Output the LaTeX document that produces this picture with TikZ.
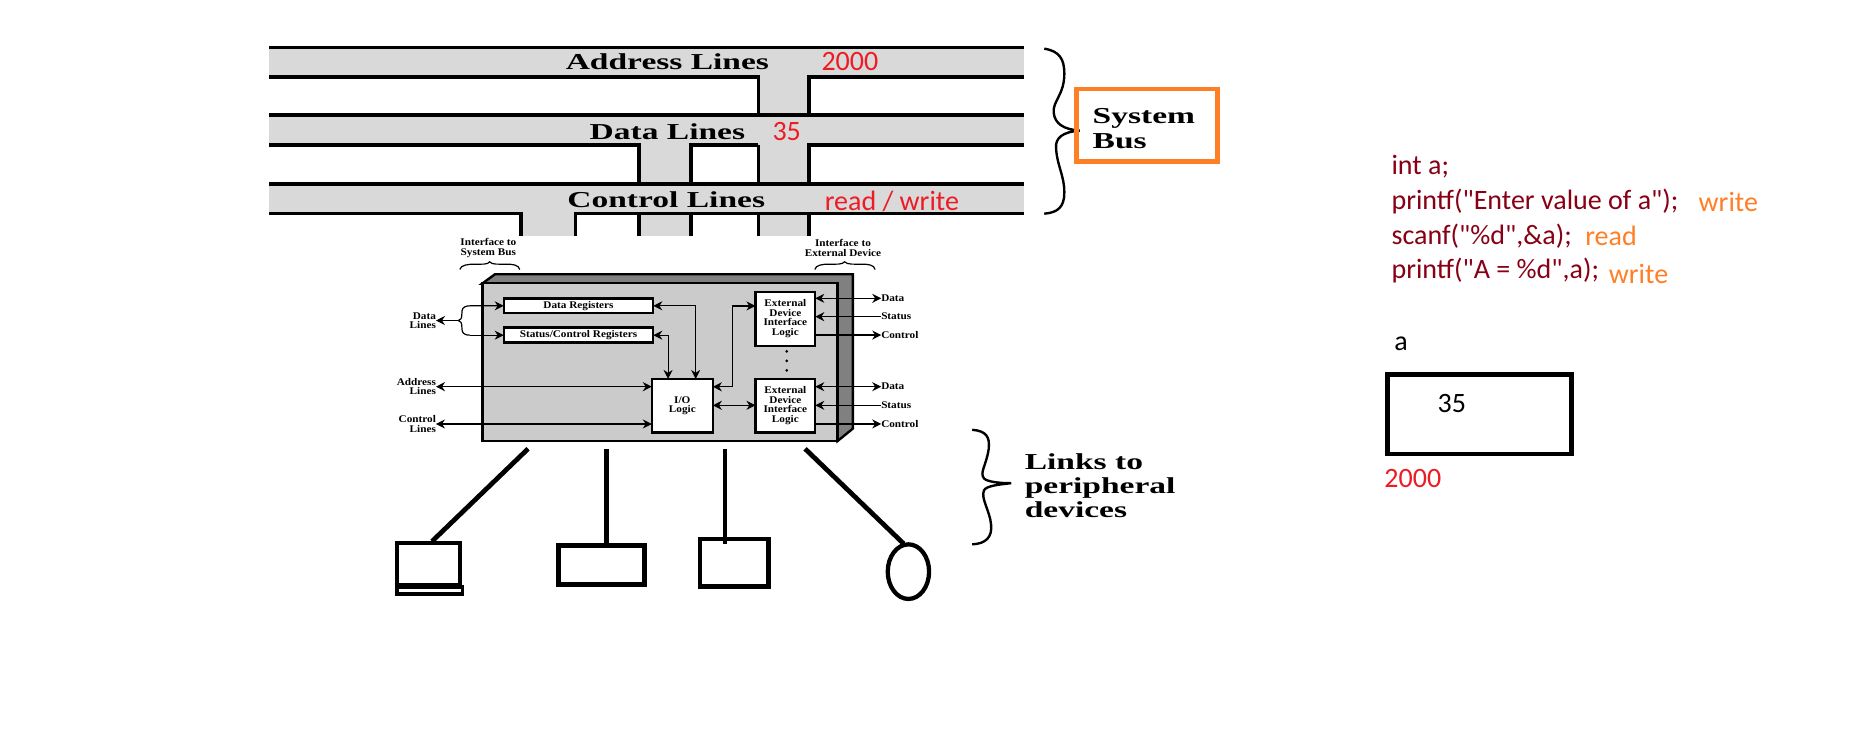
\documentclass[tikz,border=0pt]{standalone}
\usepackage{fontspec}
\setmainfont{Liberation Serif}
\newfontfamily\calibrifont{Carlito}
\newfontfamily\busfont[FakeStretch=1.47]{Liberation Serif Bold}
\newfontfamily\tinyfont[FakeStretch=1.1]{Liberation Serif Bold}
\usetikzlibrary{arrows.meta}
\usetikzlibrary{positioning}
\definecolor{busgray}{HTML}{D9D9D9}
\definecolor{bodygray}{HTML}{CBCBCB}
\definecolor{sidegray}{HTML}{808080}
\definecolor{notered}{HTML}{ED1C24}
\definecolor{noteorange}{HTML}{FF7F27}
\definecolor{codered}{HTML}{880015}
\tikzset{
    every node/.style={outer sep=0pt},
    busline/.style={line width=1.5pt},
    linkline/.style={line width=2pt},
    devbox/.style={draw, line width=2pt, fill=white},
    iobox/.style={draw, line width=1pt, fill=white, inner sep=0pt},
    wire/.style={<->, >={Stealth[length=3.8pt,width=3.8pt]}, line width=0.5pt},
    wirein/.style={wire, <-},
    wireout/.style={wire, ->},
    tinylabel/.style={font=\tinyfont\fontsize{4.3}{4}\selectfont, align=center, inner sep=0pt},
    buslabel/.style={font=\busfont\fontsize{9.6}{10}\selectfont, inner sep=0pt},
    sidelabel/.style={font=\busfont\fontsize{9.6}{10}\selectfont, inner sep=0pt, anchor=west, align=left},
    rednote/.style={font=\calibrifont\fontsize{11.8}{12}\selectfont, text=notered, inner sep=0pt},
    codeline/.style={font=\calibrifont\fontsize{11.8}{12}\selectfont, text=codered, inner sep=0pt, anchor=west},
    orangenote/.style={font=\calibrifont\fontsize{11.8}{12}\selectfont, text=noteorange, inner sep=0pt, anchor=west},
    blacknote/.style={font=\calibrifont\fontsize{11.8}{12}\selectfont, inner sep=0pt}
}
\begin{document}
\begin{tikzpicture}[x=0.4975pt, y=-0.5pt]
    \useasboundingbox[fill=white](0,0) rectangle (1567.8,626);
    % bus bands
    \fill[busgray](228, 40) rectangle (867, 65);
    \fill[busgray](228, 97) rectangle (867, 122);
    \fill[busgray](228, 155) rectangle (867, 180);
    \fill[busgray](642, 65) rectangle (685, 199);
    \fill[busgray](541, 122) rectangle (585, 199);
    \fill[busgray](441, 180) rectangle (487, 199);
    \draw[busline](228, 40)--(867, 40);
    \draw[busline](228, 65)--(642, 65)--(642, 97);
    \draw[busline](867, 65)--(685, 65)--(685, 97);
    \draw[busline](228, 97)--(867, 97);
    \draw[busline](228, 122)--(541, 122)--(541, 155);
    \draw[busline](642, 122)--(585, 122)--(585, 155);
    \draw[busline](867, 122)--(685, 122)--(685, 155);
    \draw[busline](642, 122)--(642, 155);
    \draw[busline](228, 155)--(867, 155);
    \draw[busline](228, 180)--(441, 180)--(441, 199);
    \draw[busline](867, 180)--(487, 180)--(487, 199);
    \foreach \stemx in {541, 585, 642, 685}
        \draw[busline](\stemx, 180)--(\stemx, 199);
    \node[buslabel](addrlabel) at (565, 52){Address Lines};
    \node[buslabel](datalabel) at (565, 111){Data Lines};
    \node[buslabel](ctrllabel) at (564, 168){Control Lines};
    \node[rednote](addrnote) at (719.5, 52){2000};
    \node[rednote](datanote) at (666, 111){35};
    \node[rednote](ctrlnote) at (755, 170){read / write};
    % system bus brace and box
    \draw[line width=1pt](884, 41) .. controls (897, 43) and (901, 50) .. (901, 62) .. controls (901, 80) and (891, 85) .. (892, 95) .. controls (893, 104) and (900, 109) .. (914, 110) .. controls (900, 111) and (893, 116) .. (894, 125) .. controls (895, 140) and (901, 148) .. (901, 162) .. controls (901, 174) and (896, 179) .. (884, 180);
    \node[draw=noteorange, line width=2pt, minimum width=59.5pt, minimum height=30.5pt, anchor=north west](sysbox) at (911, 75){};
    \node[sidelabel](syslabel) at (925, 108.5){System\\[0.6pt]Bus};
    \begin{scope}[xshift=1pt]
    % interface block
    \fill[sidegray, draw=black, line width=1pt](406, 239)--(417, 231)--(720, 231)--(720, 361)--(707, 371.5)--(707, 239)--cycle;
    \draw[fill=bodygray, line width=1pt](406.5, 238.6) rectangle (707, 371.5);
    \node[iobox, minimum width=63pt, minimum height=6.3pt, anchor=north west, tinylabel](datareg) at (424.4, 251.3){Data Registers};
    \node[iobox, minimum width=63pt, minimum height=6.3pt, anchor=north west, tinylabel](statreg) at (424.4, 276){Status/Control Registers};
    \node[iobox, minimum width=25.7pt, minimum height=22.6pt, anchor=north west, tinylabel](iologic) at (549.8, 319.2){I/O\\Logic};
    \node[iobox, minimum width=25.2pt, minimum height=22.8pt, anchor=north west, tinylabel](extup) at (637.5, 245.7){External\\Device\\Interface\\Logic};
    \node[iobox, minimum width=25.2pt, minimum height=22.6pt, anchor=north west, tinylabel](extdown) at (637.5, 319.2){External\\Device\\Interface\\Logic};
    \foreach \doty in {296, 304, 312}
        \fill(664, \doty) circle (0.6pt);
    % labels round the block
    \node[tinylabel, anchor=west](updata) at (744, 251.3){Data};
    \node[tinylabel, anchor=west](upstatus) at (744, 266.7){Status};
    \node[tinylabel, anchor=west](upcontrol) at (744, 282.2){Control};
    \node[tinylabel, anchor=west](downdata) at (744, 325.7){Data};
    \node[tinylabel, anchor=west](downstatus) at (744, 341.4){Status};
    \node[tinylabel, anchor=west](downcontrol) at (744, 357.1){Control};
    \node[tinylabel, anchor=east, align=right](dataln) at (367, 270){Data\\Lines};
    \node[tinylabel, anchor=east, align=right](addrln) at (367, 325.7){Address\\Lines};
    \node[tinylabel, anchor=east, align=right](ctrlln) at (367, 357.1){Control\\Lines};
    \node[tinylabel](sysif) at (411.4, 209){Interface to\\System Bus};
    \node[tinylabel](extif) at (711.6, 209){Interface to\\External Device};
    % small braces over the labels
    \draw[line width=0.5pt](387.2, 227) .. controls (388, 223) and (395, 222.5) .. (400, 222.5) .. controls (406, 222.5) and (411, 223) .. (412.5, 220.5) .. controls (414, 223) and (420, 222.5) .. (426, 222.5) .. controls (432, 222.5) and (437, 223) .. (438, 227);
    \draw[line width=0.5pt](687.7, 227) .. controls (688.5, 223) and (695, 222.5) .. (700, 222.5) .. controls (706, 222.5) and (711, 223) .. (713, 220.5) .. controls (715, 223) and (721, 222.5) .. (727, 222.5) .. controls (733, 222.5) and (738, 223) .. (738.8, 227);
    % wires
    \coordinate (elbow) at (617.9, 290);
    \coordinate (bracetop) at (396, 257.6);
    \coordinate (bracebot) at (396, 282.3);
    \coordinate (bracetip) at (386, 270);
    \draw[wire](datareg.east)-|([xshift=5.6pt]iologic.north);
    \draw[wire](statreg.east)-|([xshift=-6pt]iologic.north);
    \draw[wire]([yshift=8pt]iologic.east)-|(elbow)|-([yshift=5.4pt]extup.west);
    \draw[wire](iologic.east|-downstatus)--(extdown.west|-downstatus);
    \draw[wire](extup.east|-updata)--(updata.west);
    \draw[wirein](extup.east|-upstatus)--(upstatus.west);
    \draw[wireout](extup.east|-upcontrol)--(upcontrol.west);
    \draw[wire](extdown.east|-downdata)--(downdata.west);
    \draw[wirein](extdown.east|-downstatus)--(downstatus.west);
    \draw[wireout](extdown.east|-downcontrol)--(downcontrol.west);
    \draw[wire](addrln.east)--(iologic.west|-addrln);
    \draw[wire](ctrlln.east)--(iologic.west|-ctrlln);
    \draw[wireout](bracetop)--(datareg.west);
    \draw[wireout](bracebot)--(statreg.west);
    \draw[wireout](bracetip)--(dataln.east);
    \draw[line width=0.5pt](bracetop) .. controls (389, 257.6) and (389, 261) .. (389, 264) .. controls (389, 268) and (388, 270) .. (bracetip) .. controls (388, 270) and (389, 272) .. (389, 276) .. controls (389, 280) and (390, 282.3) .. (bracebot);
    % links to peripheral devices
    \draw[linkline](445, 378)--(363.7, 456);
    \draw[linkline](511.4, 378)--(511.4, 459);
    \draw[linkline](611.7, 378)--(611.7, 458);
    \draw[linkline](679.5, 378)--(763, 458);
    \node[devbox, minimum width=26.5pt, minimum height=17.5pt, anchor=north west, line width=1.8pt](devone) at (334, 457.5){};
    \fill(332.5, 493) rectangle (390.5, 502);
    \fill[white](336, 496) rectangle (388, 498.5);
    \node[devbox, minimum width=36pt, minimum height=16.5pt, anchor=north west](devtwo) at (471, 459.5){};
    \node[devbox, minimum width=29pt, minimum height=20pt, anchor=north west](devthree) at (590.5, 454){};
    \draw[linkline](611.7, 454)--(611.7, 458);
    \draw[line width=1.8pt](767, 481.5) ellipse (17.5 and 23);
    \end{scope}
    \draw[line width=1pt](823, 362) .. controls (835, 363) and (838, 368) .. (837, 378) .. controls (835, 392) and (829, 398) .. (833, 403) .. controls (836, 406) and (847, 407) .. (856, 407) .. controls (847, 408) and (835, 409) .. (833, 413) .. controls (830, 420) and (838, 430) .. (839, 442) .. controls (840, 452) and (835, 458) .. (823, 458.5);
    \node[sidelabel](linklabel) at (867.5, 409){Links to\\[0.2pt]peripheral\\[0.2pt]devices};
    % code and memory cell
    \node[codeline](codeone) at (1178, 140){int a;};
    \node[codeline](codetwo) at (1178, 170){printf("Enter value of a");};
    \node[codeline](codethree) at (1178, 199){scanf("\%d",\&a);};
    \node[codeline](codefour) at (1178, 228){printf("A = \%d",a);};
    \node[orangenote](notetwo) at (1438, 170){write};
    \node[orangenote](notethree) at (1342, 199){read};
    \node[orangenote](notefour) at (1362, 231){write};
    \node[blacknote](cellname) at (1186, 290){a};
    \node[draw, line width=2pt, minimum width=77.5pt, minimum height=33.5pt, anchor=north west](cell) at (1174.5, 315.5){};
    \node[blacknote](cellvalue) at (1229, 340){35};
    \node[rednote, anchor=west](celladdr) at (1172, 403){2000};
\end{tikzpicture}
\end{document}
